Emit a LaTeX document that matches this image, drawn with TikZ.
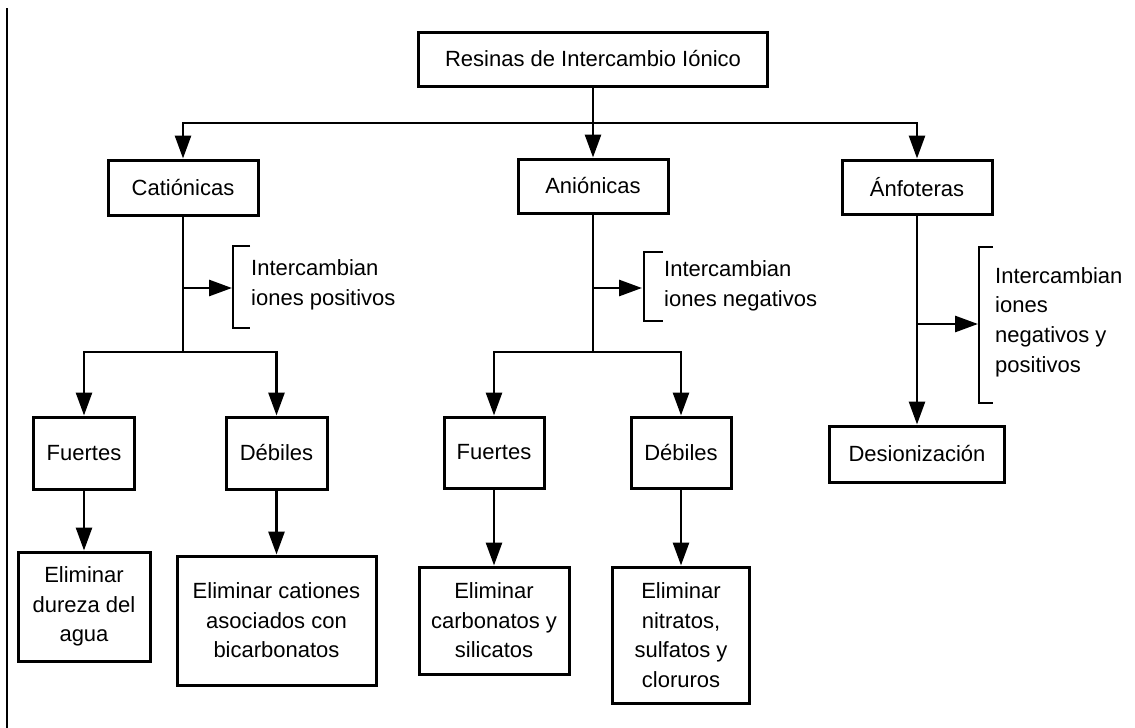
\documentclass[tikz,border=0pt]{standalone}
\usepackage{fontspec}
\setmainfont{Liberation Sans}
\usetikzlibrary{arrows.meta}
\begin{document}
\begin{tikzpicture}[x=1pt,y=-1pt,
  font=\fontsize{22}{29.6}\selectfont,
  box/.style={draw, line width=3pt, align=center, inner sep=0pt, fill=white},
  conn/.style={line width=2.8pt},
  arr/.style={conn, -{Triangle[length=23pt 0 0,width=16pt 0 0]}},
  brk/.style={line width=2.8pt},
  note/.style={anchor=west, align=left, inner sep=0pt}]
\useasboundingbox (0,0) rectangle (1135,728);

% page margin rule on the left
\draw[line width=2pt] (7,8) coordinate (ml1) -- (7,728) coordinate (ml2);

% boxes
\node[box, minimum width=349pt, minimum height=54pt] (top) at (593,59) {Resinas de Intercambio Iónico};
\node[box, minimum width=150pt, minimum height=55pt] (cat) at (183,187.5) {Catiónicas};
\node[box, minimum width=150pt, minimum height=54pt] (an) at (593,186) {Aniónicas};
\node[box, minimum width=150pt, minimum height=54pt] (anf) at (917,187) {Ánfoteras};
\node[box, minimum width=175pt, minimum height=56pt] (des) at (917,454) {Desionización};

\node[box, minimum width=101pt, minimum height=72pt] (f1) at (84,453) {Fuertes};
\node[box, minimum width=101pt, minimum height=72pt] (d1) at (276.5,453) {Débiles};
\node[box, minimum width=100pt, minimum height=71pt] (f2) at (494,452.5) {Fuertes};
\node[box, minimum width=100pt, minimum height=71pt] (d2) at (681,452.5) {Débiles};

\node[box, minimum width=132pt, minimum height=109pt] (e1) at (84,606.5) {Eliminar\\dureza del\\agua};
\node[box, minimum width=199pt, minimum height=129pt] (e2) at (276.5,620.5) {Eliminar cationes\\asociados con\\bicarbonatos};
\node[box, minimum width=150pt, minimum height=107pt] (e3) at (494,620.5) {Eliminar\\carbonatos y\\silicatos};
\node[box, minimum width=137pt, minimum height=136pt] (e4) at (681,635) {Eliminar\\nitratos,\\sulfatos y\\cloruros};

% top level split
\coordinate (split) at (top.south |- 0,123);
\draw[arr] (top.south) -- (an.north);
\draw[arr] (split) -| (cat.north);
\draw[arr] (split) -| (anf.north);

% cationic branch
\coordinate (cj) at (cat.south |- 0,352);
\draw[conn] (cat.south) -- (cj);
\draw[arr] (cj) -| (f1.north);
\draw[arr] (cj) -| (d1.north);
\draw[arr] (f1.south) -- (e1.north);
\draw[arr] (d1.south) -- (e2.north);
\coordinate (b1) at (232,288);
\draw[arr] (cat.south |- b1) -- (b1);
\draw[brk] (250,246) -- (233,246) -- (233,328) -- (250,328);
\node[note] (t1) at (251,285) {Intercambian\\iones positivos};

% anionic branch
\coordinate (aj) at (an.south |- 0,352);
\draw[conn] (an.south) -- (aj);
\draw[arr] (aj) -| (f2.north);
\draw[arr] (aj) -| (d2.north);
\draw[arr] (f2.south) -- (e3.north);
\draw[arr] (d2.south) -- (e4.north);
\coordinate (b2) at (642,288);
\draw[arr] (an.south |- b2) -- (b2);
\draw[brk] (663,252) -- (644,252) -- (644,321) -- (663,321);
\node[note] (t2) at (664,286) {Intercambian\\iones negativos};

% amphoteric branch
\draw[arr] (anf.south) -- (des.north);
\coordinate (b3) at (978,324);
\draw[arr] (anf.south |- b3) -- (b3);
\draw[brk] (993,247) -- (979,247) -- (979,403) -- (993,403);
\node[note] (t3) at (995,322) {Intercambian\\iones\\negativos y\\positivos};
\end{tikzpicture}
\end{document}
